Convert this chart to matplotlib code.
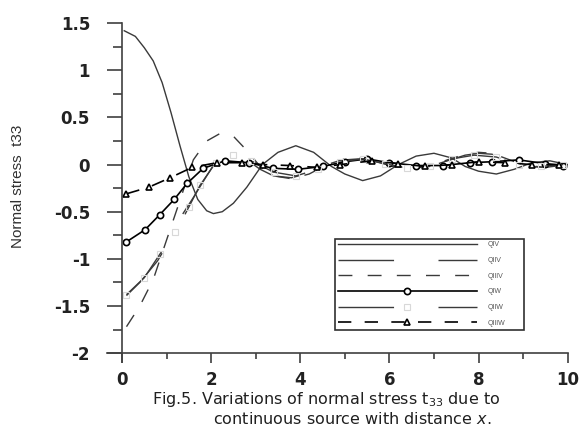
import matplotlib
matplotlib.use("Agg")
import matplotlib.pyplot as plt

plt.rcParams['font.family'] = ['DejaVu Sans']
plt.rcParams['mathtext.fontset'] = 'dejavusans'
plt.rcParams['mathtext.default'] = 'regular'

# values
x_qiv = [0.05, 0.3, 0.5, 0.7, 0.9, 1.1, 1.3, 1.5, 1.7, 1.9, 2.05, 2.25, 2.5, 2.8, 3.15, 3.5, 3.9,
         4.3, 4.7, 5.0, 5.4, 5.8, 6.2, 6.6, 7.0, 7.4, 7.7, 8.0, 8.4, 8.8, 9.2, 9.6, 10.0]
y_qiv = [1.42, 1.36, 1.24, 1.1, 0.87, 0.55, 0.2, -0.13, -0.37, -0.49, -0.52, -0.5, -0.41, -0.24, 0.0, 0.13, 0.2,
         0.13, -0.02, -0.1, -0.17, -0.12, 0.0, 0.09, 0.12, 0.07, -0.02, -0.07, -0.1, -0.05, 0.02, 0.04, 0.0]

x_qiiv = [0.1, 0.4, 0.8, 1.1, 1.3, 1.6, 1.9, 2.2, 2.5, 2.8, 3.1, 3.4, 3.8, 4.2, 4.6,
          5.0, 5.3, 5.7, 6.1, 6.5, 6.9, 7.3, 7.7, 8.0, 8.3, 8.7, 9.1, 9.5, 10.0]
y_qiiv = [-1.39, -1.25, -1.02, -0.78, -0.57, -0.35, -0.12, 0.1, 0.13, 0.05, -0.05, -0.12, -0.14, -0.09, 0.0,
          0.05, 0.06, 0.03, -0.02, -0.04, -0.02, 0.04, 0.1, 0.12, 0.11, 0.05, -0.01, -0.03, 0.0]

x_qiiiv = [0.1, 0.4, 0.7, 1.0, 1.3, 1.6, 1.9, 2.2, 2.5, 2.8, 3.1, 3.4, 3.8, 4.2, 4.6,
           5.0, 5.3, 5.7, 6.1, 6.5, 6.9, 7.3, 7.7, 8.0, 8.3, 8.7, 9.1, 9.5, 10.0]
y_qiiiv = [-1.72, -1.5, -1.22, -0.8, -0.38, 0.05, 0.25, 0.33, 0.3, 0.15, -0.02, -0.12, -0.15, -0.1, 0.0,
           0.06, 0.07, 0.03, -0.02, -0.04, -0.02, 0.05, 0.11, 0.13, 0.12, 0.05, -0.02, -0.03, 0.0]

x_qiw = [0.1, 0.52, 0.85, 1.17, 1.46, 1.82, 2.31, 2.85, 3.39, 3.95, 4.5, 5.0, 5.5,
         6.0, 6.6, 7.2, 7.8, 8.3, 8.9, 9.5, 9.9]
y_qiw = [-0.82, -0.69, -0.53, -0.37, -0.2, -0.04, 0.04, 0.02, -0.04, -0.05, -0.02, 0.03, 0.06,
         0.02, -0.01, -0.01, 0.02, 0.03, 0.05, 0.01, -0.01]

x_qiiw = [0.1, 0.5, 0.85, 1.2, 1.5, 1.75, 2.1, 2.5, 2.9, 3.4, 3.9, 4.4, 4.9, 5.4,
          5.9, 6.4, 6.9, 7.4, 7.9, 8.4, 8.9, 9.4, 9.9]
y_qiiw = [-1.38, -1.2, -0.95, -0.72, -0.45, -0.22, 0.02, 0.1, 0.04, -0.08, -0.12, -0.05, 0.03, 0.06,
          0.01, -0.04, -0.02, 0.06, 0.1, 0.08, 0.0, -0.02, 0.0]

x_qiiiw = [0.1, 0.6, 1.08, 1.57, 2.13, 2.69, 3.16, 3.77, 4.37, 4.9, 5.6, 6.2, 6.8,
           7.4, 8.0, 8.6, 9.2, 9.8]
y_qiiiw = [-0.31, -0.24, -0.14, -0.03, 0.02, 0.02, 0.0, -0.01, -0.03, 0.0, 0.04, 0.01, -0.02,
           0.0, 0.03, 0.02, 0.0, 0.0]

x_ticks = [0, 2, 4, 6, 8, 10]
y_ticks = [-2, -1.5, -1, -0.5, 0, 0.5, 1, 1.5]
y_ticklabels = ['-2', '-1.5', '-1', '-0.5', '0', '0.5', '1', '1.5']

fig = plt.figure(figsize=(5.84, 4.3), dpi=100)
ax = fig.add_axes([0.183, 0.157, 0.789, 0.789])

line_c = '#3a3a3a'
ax.plot(x_qiv, y_qiv, color=line_c, lw=1.0, label='QIV')
ax.plot(x_qiiv, y_qiiv, color=line_c, lw=1.0, dashes=(40, 32), label='QIIV')
ax.plot(x_qiiiv, y_qiiiv, color=line_c, lw=1.0, dashes=(10, 11), label='QIIIV')
ax.plot(x_qiw, y_qiw, color='black', lw=1.2, marker='o', ms=4.5, mfc='white', mec='black',
        mew=1.2, label='QIW')
ax.plot(x_qiiw, y_qiiw, color=line_c, lw=1.0, dashes=(40, 32), marker='s', ms=4,
        mfc='none', mec='#d8d8d8', mew=0.8, label='QIIW')
ax.plot(x_qiiiw, y_qiiiw, color='black', lw=1.2, dashes=(8, 8), marker='^', ms=4.5,
        mfc='white', mec='black', mew=1.2, label='QIIIW')

ax.set_xlim(-0.34, 10)
ax.set_ylim(-2.1, 1.5)
ax.spines['left'].set_position(('data', 0))
ax.spines['bottom'].set_position(('data', -2))
ax.spines['top'].set_visible(False)
ax.spines['right'].set_visible(False)
for s in ['left', 'bottom']:
    ax.spines[s].set_color('#404040')
    ax.spines[s].set_linewidth(1.2)

ax.set_xticks(x_ticks)
ax.set_xticks(range(1, 10, 2), minor=True)
ax.set_yticks(y_ticks)
ax.set_yticklabels(y_ticklabels)
ax.set_yticks([-1.75, -1.25, -0.75, -0.25, 0.25, 0.75, 1.25], minor=True)
ax.tick_params(axis='y', which='major', direction='out', length=11, width=1.2,
               color='#404040', pad=12, labelsize=12)
ax.tick_params(axis='y', which='minor', direction='out', length=6.5, width=1.2, color='#404040')
ax.tick_params(axis='x', which='major', direction='out', length=7, width=1.2,
               color='#404040', pad=6, labelsize=12)
ax.tick_params(axis='x', which='minor', direction='out', length=4.3, width=1.2, color='#404040')
for lab in ax.get_xticklabels() + ax.get_yticklabels():
    lab.set_fontweight('bold')
    lab.set_color('#222222')

leg = ax.legend(loc='lower left', bbox_to_anchor=(0.488, 0.087, 0.425, 0.265), mode='expand',
                prop={'family': 'Liberation Sans', 'size': 5}, handlelength=20,
                labelspacing=1.25, borderpad=0.4, fancybox=False, edgecolor='#303030',
                framealpha=1, handletextpad=1.5)
leg.get_frame().set_linewidth(1.2)
for t in leg.get_texts():
    t.set_color('#555555')

fig.text(0.03, 0.567, 'Normal stress  t33', rotation=90, ha='center', va='center',
         fontsize=11, family='Liberation Sans', color='#303030')

fig.text(0.558, 0.070, 'Fig.5. Variations of normal stress t$_{33}$ due to',
         ha='center', va='center', fontsize=11.5, color='#202020')
fig.text(0.603, 0.026, 'continuous source with distance $\\mathit{x}$.',
         ha='center', va='center', fontsize=11.5, color='#202020')

fig.savefig('out.png', dpi=100)
